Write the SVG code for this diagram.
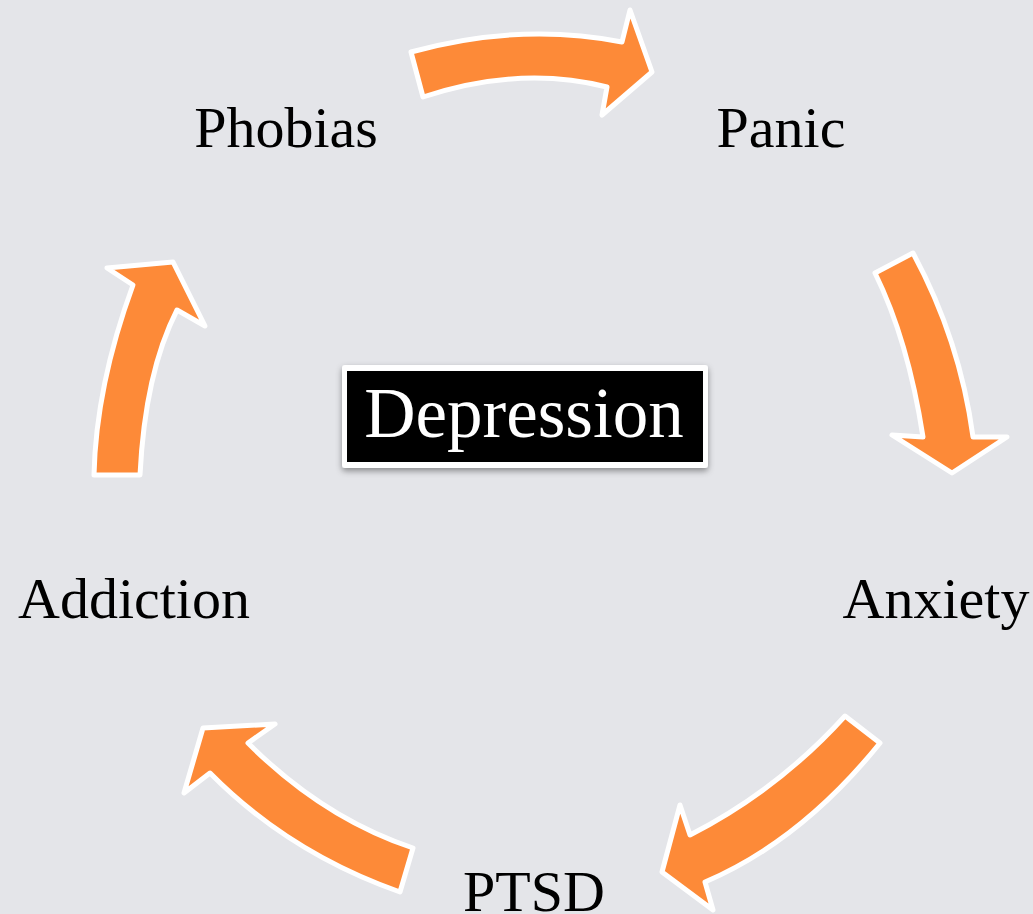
<svg xmlns="http://www.w3.org/2000/svg" width="1033" height="914" viewBox="0 0 1033 914">
  <defs>
    <filter id="shadow" x="-10%" y="-20%" width="120%" height="150%">
      <feDropShadow dx="0" dy="3" stdDeviation="3" flood-color="#000" flood-opacity="0.4"/>
    </filter>
  </defs>
  <style>
    .lbl { font-family: "Liberation Serif", "Times New Roman", serif; font-size: 58px; fill: #000; text-anchor: middle; }
    .arrow { fill: #fd8a38; stroke: #ffffff; stroke-width: 5; stroke-linejoin: round; }
    .center { font-family: "Liberation Serif", "Times New Roman", serif; font-size: 71px; fill: #ffffff; text-anchor: middle; }
  </style>
  <rect x="0" y="0" width="1033" height="914" fill="#e4e5e9"/>

  <g id="connectors">
    <path class="arrow" d="M 411 52 Q 520 22 622 42 L 630 10 L 652 72 L 602 115 L 607 87 Q 520 65 423 97 Z"/>
    <path class="arrow" d="M 913 253 Q 960 340 973 437 L 1007 437 L 952 473 L 892 435 L 923 437 Q 908 340 875 273 Z"/>
    <path class="arrow" d="M 845 716 L 880 743 Q 801 841 705 882 L 713 910 L 662 872 L 680 805 L 690 835 Q 778 790 845 716 Z"/>
    <path class="arrow" d="M 400 892 L 413 848 Q 323 818 248 743 L 275 724 L 203 728 L 184 793 L 210 773 Q 289 853 400 892 Z"/>
    <path class="arrow" d="M 94 475 L 140 475 Q 145 373 177 310 L 205 326 L 173 262 L 107 268 L 133 285 Q 96 386 94 475 Z"/>
  </g>

  <g id="node-depression">
    <rect x="342" y="365" width="366" height="103" rx="3" fill="#ffffff" filter="url(#shadow)"/>
    <rect x="347" y="371" width="356" height="91" fill="#000000"/>
    <text class="center" x="524" y="437">Depression</text>
  </g>
  <g id="node-phobias"><text class="lbl" x="286" y="147">Phobias</text></g>
  <g id="node-panic"><text class="lbl" x="781" y="147">Panic</text></g>
  <g id="node-anxiety"><text class="lbl" x="936" y="618">Anxiety</text></g>
  <g id="node-ptsd"><text class="lbl" x="534" y="911">PTSD</text></g>
  <g id="node-addiction"><text class="lbl" x="134" y="618">Addiction</text></g>
</svg>
